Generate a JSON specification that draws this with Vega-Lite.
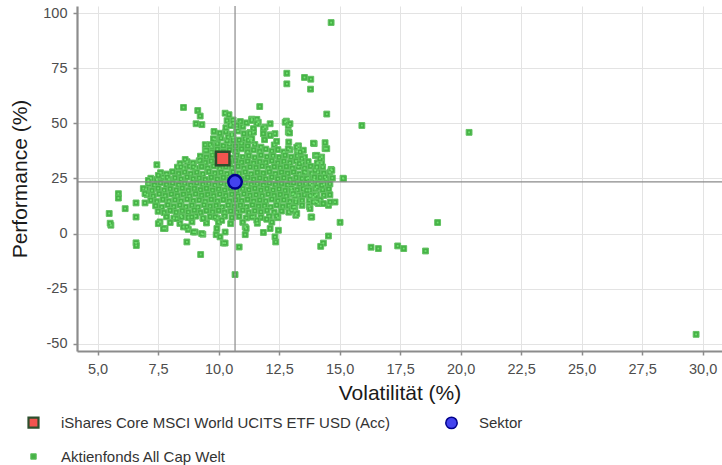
{
"$schema":"https://vega.github.io/schema/vega-lite/v6.json",
"width":645,"height":345,
"autosize":{"type":"none"},
"padding":{"left":77,"top":6,"right":0,"bottom":114},
"background":"white",
"config":{"font":"Liberation Sans","view":{"stroke":null},
"axis":{"domainColor":"#8c8c8c","domainWidth":2.2,"tickColor":"#8c8c8c","tickWidth":1.5,"tickSize":4,"labelColor":"#4d4d4d","labelFontSize":14.5,"titleFontSize":21,"titleColor":"#1a1a1a","titleFontWeight":"normal","gridColor":"#e3e3e3","gridWidth":1},
"legend":{"orient":"none","legendX":-51,"legendY":409,"columns":2,"columnPadding":52,"rowPadding":17,"labelFontSize":15,"labelColor":"#333333","labelOffset":20,"labelLimit":0,"symbolOpacity":1,"title":null}},
"datasets":{
"funds":[
{"vol":9.45,"perf":40.3},{"vol":9.7,"perf":39.5},{"vol":9.95,"perf":40.8},{"vol":10.2,"perf":39.8},{"vol":10.45,"perf":40.5},{"vol":10.7,"perf":39.6},{"vol":10.95,"perf":40.9},{"vol":11.2,"perf":39.7},{"vol":11.5,"perf":40.4},{"vol":11.75,"perf":39.2},{"vol":12.3,"perf":40.2},{"vol":12.9,"perf":41.5},{"vol":13.3,"perf":39.8},
{"vol":9.85,"perf":42.7},{"vol":10.1,"perf":43.3},{"vol":10.35,"perf":42.1},{"vol":10.6,"perf":43.5},{"vol":10.85,"perf":42.4},{"vol":11.1,"perf":43.1},{"vol":11.35,"perf":42.2},{"vol":11.9,"perf":42.6},{"vol":12.4,"perf":41.8},
{"vol":10.05,"perf":45.5},{"vol":10.3,"perf":46.2},{"vol":10.55,"perf":45.1},{"vol":10.8,"perf":46.5},{"vol":11.05,"perf":45.3},{"vol":11.3,"perf":45.8},
{"vol":10.3,"perf":48.0},{"vol":10.5,"perf":49.5},{"vol":10.75,"perf":47.8},{"vol":11.0,"perf":48.6},{"vol":10.9,"perf":50.8},{"vol":10.6,"perf":51.5},{"vol":10.35,"perf":51.2},{"vol":11.15,"perf":50.2},
{"vol":9.45,"perf":37.7},{"vol":9.7,"perf":36.9},{"vol":9.95,"perf":38.2},{"vol":10.2,"perf":37.1},{"vol":10.45,"perf":38.0},{"vol":10.7,"perf":37.3},{"vol":10.95,"perf":38.4},{"vol":11.2,"perf":37.0},{"vol":11.45,"perf":37.9},{"vol":11.7,"perf":37.2},{"vol":11.95,"perf":38.3},{"vol":12.2,"perf":37.4},{"vol":12.45,"perf":38.1},{"vol":12.7,"perf":37.0},{"vol":12.95,"perf":38.0},{"vol":13.25,"perf":37.3},{"vol":13.5,"perf":37.8},
{"vol":9.25,"perf":35.1},{"vol":9.5,"perf":34.5},{"vol":9.75,"perf":35.6},{"vol":10.0,"perf":34.7},{"vol":10.25,"perf":35.4},{"vol":10.5,"perf":34.3},{"vol":10.75,"perf":35.5},{"vol":11.0,"perf":34.6},{"vol":11.25,"perf":35.3},{"vol":11.5,"perf":34.4},{"vol":11.75,"perf":35.6},{"vol":12.0,"perf":34.8},{"vol":12.25,"perf":35.2},{"vol":12.5,"perf":34.5},{"vol":12.75,"perf":35.5},{"vol":13.0,"perf":34.7},{"vol":13.25,"perf":35.2},{"vol":13.55,"perf":34.6},{"vol":14.0,"perf":35.4},
{"vol":8.7,"perf":32.6},{"vol":8.95,"perf":32.0},{"vol":9.2,"perf":33.0},{"vol":9.45,"perf":32.2},{"vol":9.7,"perf":32.9},{"vol":9.95,"perf":31.9},{"vol":10.2,"perf":32.7},{"vol":10.45,"perf":32.1},{"vol":10.7,"perf":33.1},{"vol":10.95,"perf":32.3},{"vol":11.2,"perf":32.8},{"vol":11.45,"perf":31.9},{"vol":11.7,"perf":32.6},{"vol":11.95,"perf":32.2},{"vol":12.2,"perf":33.0},{"vol":12.45,"perf":32.0},{"vol":12.7,"perf":32.7},{"vol":12.95,"perf":32.1},{"vol":13.2,"perf":32.9},{"vol":13.45,"perf":32.3},{"vol":13.7,"perf":32.6},{"vol":14.1,"perf":32.0},
{"vol":8.3,"perf":30.1},{"vol":8.55,"perf":29.5},{"vol":8.8,"perf":30.5},{"vol":9.05,"perf":29.6},{"vol":9.3,"perf":30.4},{"vol":9.55,"perf":29.7},{"vol":9.8,"perf":30.6},{"vol":10.05,"perf":29.5},{"vol":10.3,"perf":30.3},{"vol":10.55,"perf":29.8},{"vol":10.8,"perf":30.5},{"vol":11.05,"perf":29.6},{"vol":11.3,"perf":30.2},{"vol":11.55,"perf":29.9},{"vol":11.8,"perf":30.6},{"vol":12.05,"perf":29.5},{"vol":12.3,"perf":30.3},{"vol":12.55,"perf":29.8},{"vol":12.8,"perf":30.4},{"vol":13.05,"perf":29.6},{"vol":13.3,"perf":30.2},{"vol":13.55,"perf":29.7},{"vol":13.8,"perf":30.5},{"vol":14.05,"perf":29.9},{"vol":14.3,"perf":30.2},
{"vol":7.6,"perf":27.6},{"vol":7.85,"perf":27.0},{"vol":8.1,"perf":28.0},{"vol":8.35,"perf":27.2},{"vol":8.6,"perf":27.9},{"vol":8.85,"perf":27.1},{"vol":9.1,"perf":27.8},{"vol":9.35,"perf":27.0},{"vol":9.6,"perf":28.1},{"vol":9.85,"perf":27.3},{"vol":10.1,"perf":27.7},{"vol":10.35,"perf":27.1},{"vol":10.6,"perf":28.0},{"vol":10.85,"perf":27.2},{"vol":11.1,"perf":27.9},{"vol":11.35,"perf":27.0},{"vol":11.6,"perf":27.7},{"vol":11.85,"perf":27.3},{"vol":12.1,"perf":28.0},{"vol":12.35,"perf":27.1},{"vol":12.6,"perf":27.8},{"vol":12.85,"perf":27.3},{"vol":13.1,"perf":27.9},{"vol":13.35,"perf":27.0},{"vol":13.6,"perf":27.6},{"vol":13.85,"perf":27.2},{"vol":14.1,"perf":27.8},{"vol":14.35,"perf":27.3},{"vol":14.6,"perf":27.9},
{"vol":7.2,"perf":25.1},{"vol":7.45,"perf":24.5},{"vol":7.7,"perf":25.5},{"vol":7.95,"perf":24.6},{"vol":8.2,"perf":25.3},{"vol":8.45,"perf":24.7},{"vol":8.7,"perf":25.6},{"vol":8.95,"perf":24.8},{"vol":9.2,"perf":25.2},{"vol":9.45,"perf":24.5},{"vol":9.7,"perf":25.5},{"vol":9.95,"perf":24.7},{"vol":10.2,"perf":25.4},{"vol":10.45,"perf":24.6},{"vol":10.7,"perf":25.3},{"vol":10.95,"perf":24.8},{"vol":11.2,"perf":25.5},{"vol":11.45,"perf":24.6},{"vol":11.7,"perf":25.2},{"vol":11.95,"perf":24.7},{"vol":12.2,"perf":25.6},{"vol":12.45,"perf":24.8},{"vol":12.7,"perf":25.3},{"vol":12.95,"perf":24.5},{"vol":13.2,"perf":25.4},{"vol":13.45,"perf":24.9},{"vol":13.7,"perf":25.2},{"vol":13.95,"perf":24.6},{"vol":14.2,"perf":25.4},{"vol":14.45,"perf":24.8},{"vol":14.7,"perf":25.2},
{"vol":7.1,"perf":22.6},{"vol":7.35,"perf":22.0},{"vol":7.6,"perf":23.0},{"vol":7.85,"perf":22.2},{"vol":8.1,"perf":22.9},{"vol":8.35,"perf":22.1},{"vol":8.6,"perf":22.8},{"vol":8.85,"perf":22.0},{"vol":9.1,"perf":23.0},{"vol":9.35,"perf":22.3},{"vol":9.6,"perf":22.7},{"vol":9.85,"perf":22.0},{"vol":10.1,"perf":22.9},{"vol":10.35,"perf":22.2},{"vol":10.6,"perf":22.8},{"vol":10.85,"perf":22.1},{"vol":11.1,"perf":23.0},{"vol":11.35,"perf":22.3},{"vol":11.6,"perf":22.6},{"vol":11.85,"perf":22.0},{"vol":12.1,"perf":22.9},{"vol":12.35,"perf":22.2},{"vol":12.6,"perf":22.7},{"vol":12.85,"perf":22.1},{"vol":13.1,"perf":23.0},{"vol":13.35,"perf":22.4},{"vol":13.6,"perf":22.6},{"vol":13.85,"perf":22.0},{"vol":14.1,"perf":22.8},{"vol":14.35,"perf":22.3},{"vol":14.6,"perf":22.5},
{"vol":7.0,"perf":20.1},{"vol":7.25,"perf":19.5},{"vol":7.5,"perf":20.5},{"vol":7.75,"perf":19.6},{"vol":8.0,"perf":20.3},{"vol":8.25,"perf":19.7},{"vol":8.5,"perf":20.6},{"vol":8.75,"perf":19.5},{"vol":9.0,"perf":20.4},{"vol":9.25,"perf":19.8},{"vol":9.5,"perf":20.5},{"vol":9.75,"perf":19.6},{"vol":10.0,"perf":20.2},{"vol":10.25,"perf":19.7},{"vol":10.5,"perf":20.6},{"vol":10.75,"perf":19.5},{"vol":11.0,"perf":20.3},{"vol":11.25,"perf":19.8},{"vol":11.5,"perf":20.5},{"vol":11.75,"perf":19.6},{"vol":12.0,"perf":20.4},{"vol":12.25,"perf":19.7},{"vol":12.5,"perf":20.2},{"vol":12.75,"perf":19.5},{"vol":13.0,"perf":20.5},{"vol":13.25,"perf":19.8},{"vol":13.5,"perf":20.3},{"vol":13.75,"perf":19.6},{"vol":14.0,"perf":20.4},{"vol":14.3,"perf":19.9},{"vol":14.55,"perf":20.2},
{"vol":7.05,"perf":17.6},{"vol":7.3,"perf":17.0},{"vol":7.55,"perf":18.0},{"vol":7.8,"perf":17.2},{"vol":8.05,"perf":17.9},{"vol":8.3,"perf":17.1},{"vol":8.55,"perf":17.8},{"vol":8.8,"perf":17.0},{"vol":9.05,"perf":18.0},{"vol":9.3,"perf":17.3},{"vol":9.55,"perf":17.7},{"vol":9.8,"perf":17.1},{"vol":10.05,"perf":17.9},{"vol":10.3,"perf":17.2},{"vol":10.55,"perf":17.8},{"vol":10.8,"perf":17.0},{"vol":11.05,"perf":18.0},{"vol":11.3,"perf":17.3},{"vol":11.55,"perf":17.6},{"vol":11.8,"perf":17.1},{"vol":12.05,"perf":17.9},{"vol":12.3,"perf":17.2},{"vol":12.55,"perf":17.7},{"vol":12.8,"perf":17.0},{"vol":13.05,"perf":17.8},{"vol":13.3,"perf":17.3},{"vol":13.55,"perf":17.6},{"vol":13.8,"perf":17.1},{"vol":14.05,"perf":17.8},{"vol":14.35,"perf":17.3},{"vol":14.6,"perf":17.6},
{"vol":7.2,"perf":15.1},{"vol":7.45,"perf":14.5},{"vol":7.7,"perf":15.5},{"vol":7.95,"perf":14.6},{"vol":8.2,"perf":15.3},{"vol":8.45,"perf":14.7},{"vol":8.7,"perf":15.6},{"vol":8.95,"perf":14.8},{"vol":9.2,"perf":15.2},{"vol":9.45,"perf":14.5},{"vol":9.7,"perf":15.5},{"vol":9.95,"perf":14.7},{"vol":10.2,"perf":15.4},{"vol":10.45,"perf":14.6},{"vol":10.7,"perf":15.3},{"vol":10.95,"perf":14.8},{"vol":11.2,"perf":15.5},{"vol":11.45,"perf":14.6},{"vol":11.7,"perf":15.2},{"vol":11.95,"perf":14.7},{"vol":12.2,"perf":15.6},{"vol":12.45,"perf":14.8},{"vol":12.7,"perf":15.3},{"vol":12.95,"perf":14.5},{"vol":13.2,"perf":15.4},{"vol":13.45,"perf":14.9},{"vol":13.75,"perf":15.2},{"vol":14.0,"perf":14.6},{"vol":14.2,"perf":15.3},
{"vol":7.4,"perf":12.6},{"vol":7.65,"perf":12.0},{"vol":7.9,"perf":13.0},{"vol":8.15,"perf":12.2},{"vol":8.4,"perf":12.9},{"vol":8.65,"perf":12.1},{"vol":8.9,"perf":12.8},{"vol":9.15,"perf":12.0},{"vol":9.4,"perf":13.0},{"vol":9.65,"perf":12.3},{"vol":9.9,"perf":12.7},{"vol":10.15,"perf":12.0},{"vol":10.4,"perf":12.9},{"vol":10.65,"perf":12.2},{"vol":10.9,"perf":12.8},{"vol":11.15,"perf":12.1},{"vol":11.4,"perf":13.0},{"vol":11.65,"perf":12.3},{"vol":11.9,"perf":12.6},{"vol":12.15,"perf":12.0},{"vol":12.4,"perf":12.9},{"vol":12.65,"perf":12.2},{"vol":12.9,"perf":12.7},{"vol":13.15,"perf":12.1},{"vol":13.45,"perf":12.8},{"vol":13.75,"perf":12.3},
{"vol":7.5,"perf":10.1},{"vol":7.75,"perf":9.5},{"vol":8.0,"perf":10.5},{"vol":8.25,"perf":9.6},{"vol":8.5,"perf":10.3},{"vol":8.75,"perf":9.7},{"vol":9.0,"perf":10.6},{"vol":9.25,"perf":9.5},{"vol":9.5,"perf":10.4},{"vol":9.75,"perf":9.8},{"vol":10.0,"perf":10.5},{"vol":10.25,"perf":9.6},{"vol":10.5,"perf":10.2},{"vol":10.75,"perf":9.7},{"vol":11.0,"perf":10.6},{"vol":11.25,"perf":9.5},{"vol":11.5,"perf":10.3},{"vol":11.75,"perf":9.8},{"vol":12.0,"perf":10.5},{"vol":12.3,"perf":9.6},{"vol":12.6,"perf":10.2},{"vol":12.9,"perf":9.7},{"vol":13.15,"perf":10.4},
{"vol":7.85,"perf":7.6},{"vol":8.15,"perf":7.0},{"vol":8.45,"perf":8.0},{"vol":8.75,"perf":7.3},{"vol":9.05,"perf":7.9},{"vol":9.35,"perf":7.1},{"vol":9.65,"perf":7.7},{"vol":9.95,"perf":7.0},{"vol":10.25,"perf":7.9},{"vol":10.55,"perf":7.2},{"vol":10.85,"perf":7.8},{"vol":11.15,"perf":7.1},{"vol":11.45,"perf":7.6},{"vol":11.75,"perf":7.3},{"vol":12.1,"perf":7.9},{"vol":12.45,"perf":7.2},
{"vol":8.0,"perf":5.0},{"vol":8.4,"perf":4.6},{"vol":8.9,"perf":5.3},{"vol":9.5,"perf":4.8},{"vol":10.0,"perf":5.2},{"vol":10.5,"perf":4.5},{"vol":11.0,"perf":5.1},{"vol":11.6,"perf":4.7},{"vol":12.2,"perf":5.2},
{"vol":14.65,"perf":95.7},{"vol":20.35,"perf":45.9},{"vol":29.73,"perf":-45.7},{"vol":15.92,"perf":49.0},{"vol":15.14,"perf":25.1},{"vol":15.02,"perf":5.1},{"vol":19.05,"perf":5.0},{"vol":16.3,"perf":-6.2},{"vol":16.6,"perf":-6.8},{"vol":17.4,"perf":-5.6},{"vol":17.65,"perf":-6.8},{"vol":18.55,"perf":-7.9},
{"vol":12.82,"perf":72.7},{"vol":12.82,"perf":67.9},{"vol":13.55,"perf":70.8},{"vol":13.81,"perf":70.0},{"vol":13.8,"perf":65.5},{"vol":11.7,"perf":57.6},{"vol":14.47,"perf":54.2},{"vol":10.27,"perf":54.6},{"vol":10.43,"perf":53.9},{"vol":11.37,"perf":51.9},{"vol":11.58,"perf":51.8},{"vol":12.8,"perf":51.0},{"vol":8.55,"perf":57.2},{"vol":9.14,"perf":55.8},{"vol":9.24,"perf":53.3},{"vol":9.07,"perf":49.8},{"vol":9.31,"perf":49.4},{"vol":9.81,"perf":46.3},{"vol":9.79,"perf":43.0},{"vol":9.65,"perf":40.3},{"vol":9.51,"perf":37.7},{"vol":10.4,"perf":43.7},
{"vol":13.95,"perf":40.8},{"vol":14.4,"perf":41.2},{"vol":14.4,"perf":38.5},{"vol":14.26,"perf":34.7},{"vol":14.26,"perf":32.0},{"vol":14.08,"perf":32.0},{"vol":14.65,"perf":29.1},{"vol":14.4,"perf":25.6},{"vol":13.99,"perf":28.7},{"vol":13.96,"perf":25.6},{"vol":13.55,"perf":27.9},{"vol":12.88,"perf":38.5},{"vol":13.3,"perf":38.5},{"vol":12.88,"perf":49.0},{"vol":12.88,"perf":46.0},{"vol":12.75,"perf":50.5},{"vol":12.13,"perf":49.8},{"vol":12.13,"perf":44.8},{"vol":11.3,"perf":43.0},{"vol":11.37,"perf":51.3},{"vol":11.64,"perf":50.5},{"vol":11.92,"perf":48.3},{"vol":11.44,"perf":46.0},{"vol":11.85,"perf":47.6},{"vol":12.33,"perf":45.3},{"vol":12.95,"perf":49.8},{"vol":12.93,"perf":45.6},{"vol":13.92,"perf":41.0},{"vol":14.47,"perf":38.5},{"vol":13.23,"perf":39.2},{"vol":13.37,"perf":37.0},{"vol":13.44,"perf":34.0},{"vol":13.34,"perf":31.7},{"vol":14.06,"perf":35.5},{"vol":14.19,"perf":34.0},{"vol":14.06,"perf":30.2},{"vol":14.68,"perf":28.7},{"vol":10.48,"perf":49.0},{"vol":10.61,"perf":50.1},{"vol":10.75,"perf":49.0},{"vol":10.55,"perf":44.5},{"vol":10.61,"perf":42.3},{"vol":11.58,"perf":49.8},{"vol":11.44,"perf":47.6},{"vol":11.3,"perf":45.3},{"vol":11.37,"perf":43.0},{"vol":11.23,"perf":42.3},{"vol":11.85,"perf":45.3},{"vol":12.13,"perf":44.5},
{"vol":7.45,"perf":31.2},{"vol":7.51,"perf":26.4},{"vol":8.62,"perf":33.6},{"vol":8.41,"perf":31.7},{"vol":8.44,"perf":30.2},{"vol":7.88,"perf":25.5},{"vol":7.1,"perf":23.7},{"vol":8.96,"perf":30.2},{"vol":9.24,"perf":33.2},{"vol":5.86,"perf":18.1},{"vol":5.86,"perf":16.1},{"vol":5.48,"perf":9.1},{"vol":5.55,"perf":3.8},{"vol":5.52,"perf":4.7},{"vol":6.14,"perf":11.3},{"vol":6.59,"perf":7.5},{"vol":6.59,"perf":13.9},{"vol":6.96,"perf":13.9},{"vol":6.59,"perf":-4.2},{"vol":6.6,"perf":-5.4},{"vol":8.69,"perf":-3.8},{"vol":9.26,"perf":-9.5},{"vol":7.79,"perf":2.3},{"vol":7.58,"perf":5.3},{"vol":8.55,"perf":3.0},{"vol":8.75,"perf":1.9},{"vol":9.03,"perf":0.7},{"vol":9.35,"perf":-0.3},{"vol":9.9,"perf":-0.5},{"vol":10.2,"perf":-4.3},{"vol":8.27,"perf":6.8},{"vol":8.48,"perf":7.5},{"vol":8.89,"perf":7.5},{"vol":9.37,"perf":6.8},{"vol":9.86,"perf":7.5},{"vol":10.13,"perf":6.0},{"vol":6.89,"perf":20.4},{"vol":6.96,"perf":18.1},{"vol":7.1,"perf":24.1},{"vol":7.72,"perf":2.3},{"vol":7.51,"perf":4.5},
{"vol":10.68,"perf":-18.6},{"vol":10.85,"perf":-6.1},{"vol":14.54,"perf":-1.1},{"vol":14.33,"perf":-4.3},{"vol":14.22,"perf":-5.8},{"vol":13.82,"perf":7.5},{"vol":13.19,"perf":8.3},{"vol":12.36,"perf":-3.8},{"vol":12.33,"perf":-1.5},{"vol":12.47,"perf":1.5},{"vol":12.13,"perf":2.3},{"vol":11.85,"perf":0.5},{"vol":11.1,"perf":-0.5},{"vol":11.1,"perf":3.0},{"vol":10.27,"perf":0.7},{"vol":10.27,"perf":-4.3},{"vol":13.78,"perf":11.3},{"vol":14.12,"perf":13.6},{"vol":14.54,"perf":12.8},{"vol":14.81,"perf":14.3},{"vol":13.92,"perf":16.6},{"vol":13.92,"perf":14.3},{"vol":13.19,"perf":14.3},{"vol":13.02,"perf":10.6},{"vol":12.4,"perf":8.0},{"vol":11.99,"perf":6.5},{"vol":11.58,"perf":6.0},{"vol":11.37,"perf":7.5},{"vol":11.14,"perf":2.3},{"vol":13.85,"perf":23.4},{"vol":14.06,"perf":21.1},{"vol":14.26,"perf":21.9},{"vol":13.78,"perf":17.3},{"vol":13.99,"perf":17.3},{"vol":13.16,"perf":17.3},{"vol":13.02,"perf":19.6},{"vol":13.64,"perf":24.9},{"vol":13.78,"perf":22.6},{"vol":13.64,"perf":19.6},{"vol":13.09,"perf":18.1},{"vol":13.09,"perf":12.0},{"vol":13.23,"perf":9.1},{"vol":13.85,"perf":7.5},{"vol":14.06,"perf":14.3},{"vol":14.33,"perf":13.6},{"vol":14.61,"perf":14.3},{"vol":10.06,"perf":-1.5},{"vol":9.93,"perf":2.3},{"vol":9.3,"perf":0.0},{"vol":8.96,"perf":0.7},{"vol":8.69,"perf":3.0},{"vol":15.16,"perf":24.9}
],
"fund":[{"grp":"iShares Core MSCI World UCITS ETF USD (Acc)","vol":10.17,"perf":34.0}],
"sector":[{"grp":"Sektor","vol":10.68,"perf":23.45}]
},
"layer":[
{"data":{"name":"funds"},"mark":{"type":"point","filled":true,"opacity":1},
"encoding":{
"x":{"field":"vol","type":"quantitative","scale":{"domain":[4.15,30.8],"nice":false,"zero":false},
"axis":{"values":[5,7.5,10,12.5,15,17.5,20,22.5,25,27.5,30],"labelExpr":"replace(format(datum.value,'.1f'),'.',',')","title":"Volatilität (%)","labelPadding":7,"titlePadding":7,"grid":true}},
"y":{"field":"perf","type":"quantitative","scale":{"domain":[-53.25,103.2],"nice":false,"zero":false},
"axis":{"values":[-50,-25,0,25,50,75,100],"labelExpr":"datum.value + ''","title":"Performance (%)","labelPadding":6,"titlePadding":12,"grid":true}},
"fill":{"datum":"Aktienfonds All Cap  Welt","type":"nominal","scale":{"domain":["iShares Core MSCI World UCITS ETF USD (Acc)","Aktienfonds All Cap  Welt","Sektor"],"range":["#f2544f","#46b246","#4343ee"]},"legend":{"title":null,"symbolSize":{"expr":"datum.value === 'Aktienfonds All Cap  Welt' ? 30 : (datum.value === 'Sektor' ? 130 : 100)"},"symbolStrokeWidth":{"expr":"datum.value === 'Aktienfonds All Cap  Welt' ? 1 : (datum.value === 'Sektor' ? 1.5 : 2.2)"}}},
"stroke":{"datum":"Aktienfonds All Cap  Welt","type":"nominal","scale":{"domain":["iShares Core MSCI World UCITS ETF USD (Acc)","Aktienfonds All Cap  Welt","Sektor"],"range":["#2d4f2d","#62c262","#00008b"]},"legend":{"title":null}},
"shape":{"datum":"Aktienfonds All Cap  Welt","type":"nominal","scale":{"domain":["iShares Core MSCI World UCITS ETF USD (Acc)","Aktienfonds All Cap  Welt","Sektor"],"range":["square","square","circle"]},"legend":{"title":null}},
"size":{"datum":"Aktienfonds All Cap  Welt","type":"nominal","scale":{"type":"ordinal","domain":["iShares Core MSCI World UCITS ETF USD (Acc)","Aktienfonds All Cap  Welt","Sektor"],"range":[100,34,130]},"legend":null},
"strokeWidth":{"datum":"Aktienfonds All Cap  Welt","type":"nominal","scale":{"type":"ordinal","domain":["iShares Core MSCI World UCITS ETF USD (Acc)","Aktienfonds All Cap  Welt","Sektor"],"range":[2.2,1,1.5]},"legend":null}
}},
{"data":{"name":"funds"},"mark":{"type":"square","size":3,"color":"#72e272","opacity":1},
"encoding":{"x":{"field":"vol","type":"quantitative"},"y":{"field":"perf","type":"quantitative"}}},
{"data":{"name":"sector"},"mark":{"type":"rule","color":"#8a8a8a","strokeWidth":1.2},
"encoding":{"x":{"field":"vol","type":"quantitative"}}},
{"data":{"name":"sector"},"mark":{"type":"rule","color":"#8a8a8a","strokeWidth":1.2},
"encoding":{"y":{"field":"perf","type":"quantitative"}}},
{"data":{"name":"fund"},"mark":{"type":"point","filled":true,"opacity":1},
"encoding":{"x":{"field":"vol","type":"quantitative"},"y":{"field":"perf","type":"quantitative"},
"fill":{"field":"grp","type":"nominal","legend":{"title":null}},"stroke":{"field":"grp","type":"nominal","legend":{"title":null}},"shape":{"field":"grp","type":"nominal","legend":{"title":null}},"size":{"field":"grp","type":"nominal","legend":null},"strokeWidth":{"field":"grp","type":"nominal","legend":null}}},
{"data":{"name":"sector"},"mark":{"type":"point","filled":true,"opacity":1},
"encoding":{"x":{"field":"vol","type":"quantitative"},"y":{"field":"perf","type":"quantitative"},
"fill":{"field":"grp","type":"nominal","legend":{"title":null}},"stroke":{"field":"grp","type":"nominal","legend":{"title":null}},"shape":{"field":"grp","type":"nominal","legend":{"title":null}},"size":{"field":"grp","type":"nominal","legend":null},"strokeWidth":{"field":"grp","type":"nominal","legend":null}}}
]
}
